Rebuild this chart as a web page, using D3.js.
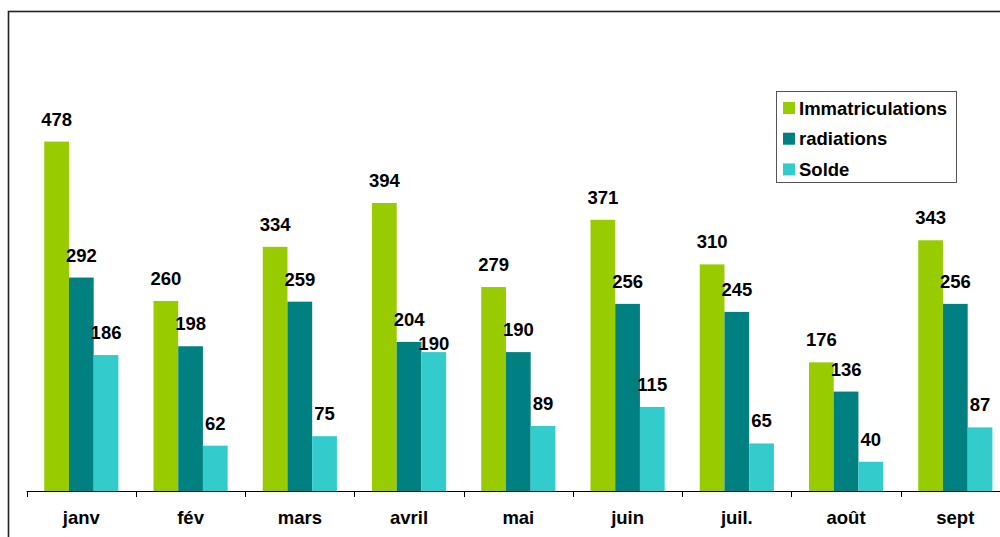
<!DOCTYPE html>
<html>
<head>
<meta charset="utf-8">
<script src="https://cdn.jsdelivr.net/npm/d3@7"></script>
<style>
  html, body { margin: 0; padding: 0; background: #fff; }
  svg { display: block; }
  text { font-family: "Liberation Sans", Arial, sans-serif; font-weight: bold; fill: #000; }
</style>
</head>
<body>
<div id="chart"></div>
<script>
// chart data
var months = ['janv', 'fév', 'mars', 'avril', 'mai', 'juin', 'juil.', 'août', 'sept'];
var series = ['Immatriculations', 'radiations', 'Solde'];
var immatriculations = [478, 260, 334, 394, 279, 371, 310, 176, 343];
var radiations = [292, 198, 259, 204, 190, 256, 245, 136, 256];
var solde = [186, 62, 75, 190, 89, 115, 65, 40, 87];
var colors = ['#99cc00', '#008080', '#33cccc'];

var W = 1000, H = 537;
var svg = d3.select('#chart').append('svg')
    .attr('width', W)
    .attr('height', H);

// outer frame (cut by the window on right and bottom)
svg.append('rect')
    .attr('x', 8.5).attr('y', 11.5)
    .attr('width', 1100).attr('height', 700)
    .attr('fill', 'none')
    .attr('stroke', '#222')
    .attr('stroke-width', 1.6);

var x = d3.scaleBand()
    .domain(months)
    .range([26.7, 26.7 + 9 * 109.25])
    .padding(0);

var x1 = d3.scaleBand()
    .domain(series)
    .range([0, x.bandwidth()])
    .paddingInner(0)
    .paddingOuter(0.71);

var y = d3.scaleLinear()
    .domain([0, 600])
    .range([491, 52.4]);

var rows = months.map(function(m, i){
  return {month: m, values: [immatriculations[i], radiations[i], solde[i]]};
});

// bars
var groups = svg.selectAll('g.group')
    .data(rows)
    .enter()
    .append('g')
    .attr('class', 'group')
    .attr('transform', function(d){ return 'translate(' + x(d.month) + ',0)'; });

groups.selectAll('rect')
    .data(function(d){ return d.values.map(function(v, j){ return {s: series[j], v: v, j: j}; }); })
    .enter()
    .append('rect')
    .attr('x', function(d){ return x1(d.s); })
    .attr('width', x1.bandwidth())
    .attr('y', function(d){ return y(d.v); })
    .attr('height', function(d){ return y(0) - y(d.v); })
    .attr('fill', function(d){ return colors[d.j]; });

// value labels; a label that would collide with its left neighbour
// is pushed down onto its bar (as in the original)
groups.each(function(d){
  var g = d3.select(this);
  var prev = null;
  d.values.forEach(function(v, j){
    var cx = x1(series[j]) + x1.bandwidth() / 2;
    var base = y(v) - 16;
    var t = g.append('text')
        .attr('x', cx)
        .attr('y', base)
        .attr('text-anchor', 'middle')
        .style('font-size', '18.5px')
        .text(v);
    var w = t.node().getComputedTextLength();
    var box = {x0: cx - w / 2, x1: cx + w / 2, y0: base - 13, y1: base};
    if (prev && box.x0 < prev.x1 && box.x1 > prev.x0 && box.y0 < prev.y1 && box.y1 > prev.y0) {
      base = y(v) - 2;
      t.attr('y', base);
      box.y0 = base - 13; box.y1 = base;
    }
    prev = box;
  });
});

// category axis
var axis = svg.append('g');
axis.append('line')
    .attr('x1', x.range()[0]).attr('x2', W)
    .attr('y1', y(0) + 0.5).attr('y2', y(0) + 0.5)
    .attr('stroke', '#000')
    .attr('stroke-width', 1);

var tickXs = months.map(function(m){ return x(m); }).concat([x.range()[1]]);
axis.selectAll('line.tick')
    .data(tickXs)
    .enter()
    .append('line')
    .attr('class', 'tick')
    .attr('x1', function(d){ return Math.round(d) + 0.5; })
    .attr('x2', function(d){ return Math.round(d) + 0.5; })
    .attr('y1', y(0)).attr('y2', y(0) + 6)
    .attr('stroke', '#000');

axis.selectAll('text')
    .data(months)
    .enter()
    .append('text')
    .attr('x', function(d){ return x(d) + x.bandwidth() / 2; })
    .attr('y', 524)
    .attr('text-anchor', 'middle')
    .style('font-size', '18.5px')
    .text(function(d){ return d; });

// legend
var legend = svg.append('g');
legend.append('rect')
    .attr('x', 776.5).attr('y', 91.5)
    .attr('width', 180).attr('height', 91)
    .attr('fill', '#fff')
    .attr('stroke', '#555')
    .attr('stroke-width', 1);

var items = legend.selectAll('g.item')
    .data(series)
    .enter()
    .append('g')
    .attr('class', 'item')
    .attr('transform', function(d, i){ return 'translate(0,' + (108 + i * 30.7) + ')'; });

items.append('rect')
    .attr('x', 783).attr('y', -6)
    .attr('width', 12).attr('height', 12)
    .attr('fill', function(d, i){ return colors[i]; });

items.append('text')
    .attr('x', 799)
    .attr('y', 6.5)
    .style('font-size', '18.5px')
    .text(function(d){ return d; });
</script>
</body>
</html>
